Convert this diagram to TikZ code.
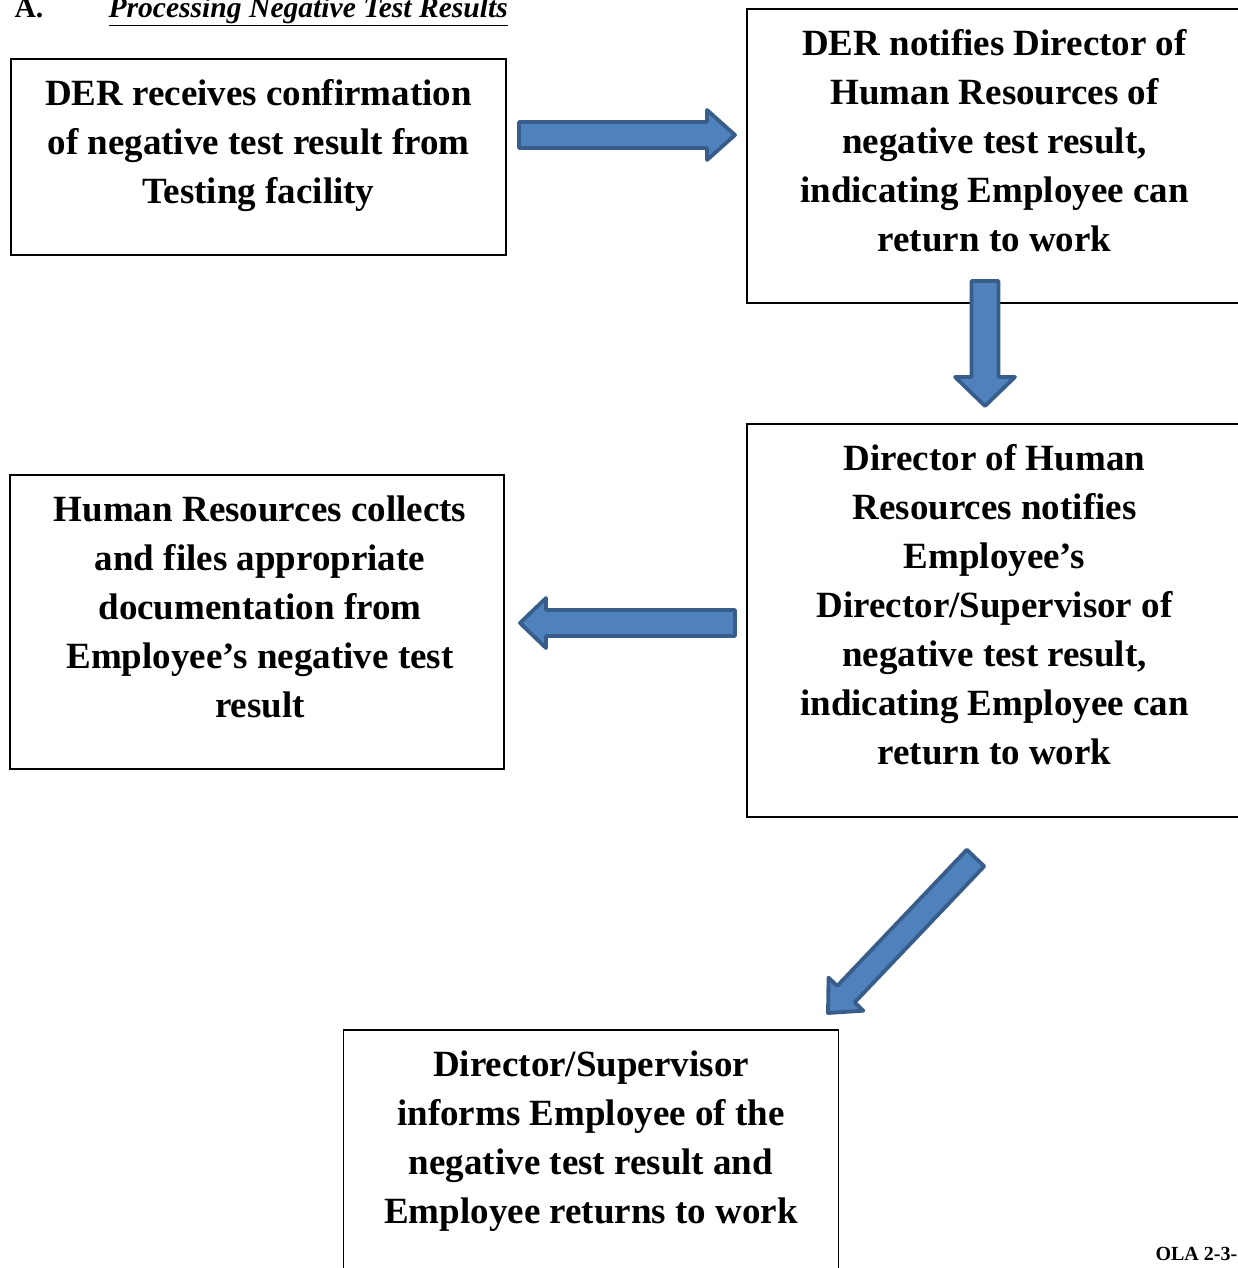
\documentclass[tikz,border=0pt]{standalone}
\usepackage{fontspec}
\setmainfont{Liberation Serif}
\usetikzlibrary{positioning,calc}
\definecolor{arrowfill}{HTML}{4F81BD}
\definecolor{arrowline}{HTML}{385D8A}
\tikzset{
  stepbox/.style={draw, line width=1.6pt, minimum width=495, inner sep=0pt},
  boxtext/.style={align=center, inner sep=0pt, font=\bfseries\fontsize{37}{49}\selectfont,
    execute at begin node=\rule{0pt}{27pt}},
  blockarrow/.style={draw=arrowline, fill=arrowfill, line width=3.8pt, line join=round}
}
% block arrow: tail, tip, body half width, head half width, head length
\newcommand{\blockarrow}[5]{%
  \coordinate (#2-base) at ($(#2)!#5!(#1)$);
  \draw[blockarrow] ($(#1)!#3!90:(#2)$) -- ($(#2-base)!#3!90:(#2)$)
    -- ($(#2-base)!#4!90:(#2)$) -- (#2) -- ($(#2-base)!#4!-90:(#2)$)
    -- ($(#2-base)!#3!-90:(#2)$) -- ($(#1)!#3!-90:(#2)$) -- cycle;}
\begin{document}
\begin{tikzpicture}[x=1pt,y=-1pt]
  \useasboundingbox (0,0) rectangle (1238,1268);

  % heading
  \node[anchor=base west, font=\bfseries\fontsize{29.6}{34}\selectfont] (sec) at (11,18) {A.};
  \node[anchor=base west, font=\bfseries\itshape\fontsize{29.6}{34}\selectfont] (title) at (105,18) {\underline{Processing Negative Test Results}};

  % boxes
  \node[stepbox, minimum height=196] (receive) at (258.5,157) {};
  \node[stepbox, minimum height=294] (notify) at (994.5,156) {};
  \node[stepbox, minimum height=393] (hrdir) at (994.5,620.5) {};
  \node[stepbox, minimum width=494, minimum height=294] (files) at (257,622) {};
  \node[stepbox, minimum height=300] (informs) at (591,1180) {};

  \node[boxtext, below=21pt of receive.north] (receivetxt) {DER receives confirmation\\of negative test result from\\Testing facility};
  \node[boxtext, below=21pt of notify.north] (notifytxt) {DER notifies Director of\\Human Resources of\\negative test result,\\indicating Employee can\\return to work};
  \node[boxtext, below=21pt of hrdir.north] (hrdirtxt) {Director of Human\\Resources notifies\\Employee’s\\Director/Supervisor of\\negative test result,\\indicating Employee can\\return to work};
  \node[boxtext, below=21pt of files.north, xshift=3pt] (filestxt) {Human Resources collects\\and files appropriate\\documentation from\\Employee’s negative test\\result};
  \node[boxtext, below=21pt of informs.north] (informstxt) {Director/Supervisor\\informs Employee of the\\negative test result and\\Employee returns to work};

  % arrows
  \coordinate (rtail) at (519,135);
  \coordinate (rtip) at (735,135);
  \coordinate (dtail) at (985,281);
  \coordinate (dtip) at (985,406);
  \coordinate (ltail) at (735,623);
  \coordinate (ltip) at (520,623);
  \coordinate (gtail) at (975.5,858);
  \coordinate (gtip) at (828,1013);
  \blockarrow{rtail}{rtip}{13pt}{25pt}{28pt}
  \blockarrow{dtail}{dtip}{13.5pt}{30pt}{29pt}
  \blockarrow{ltail}{ltip}{13pt}{25pt}{26pt}
  \blockarrow{gtail}{gtip}{12pt}{24pt}{26pt}

  \node[anchor=base west, font=\bfseries\fontsize{20}{24}\selectfont] (ola) at (1152,1260) {OLA 2-3-};
\end{tikzpicture}
\end{document}
